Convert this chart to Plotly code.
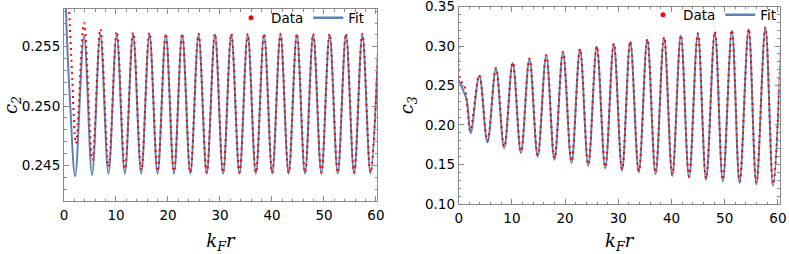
import plotly.graph_objects as go

# ---------------- Left panel: c2 (extrema) ----------------
fit2_x = [0.0, 0.38, 1.15, 2.15, 3.85, 5.4, 6.98, 8.55, 10.13, 11.7, 13.28, 14.85, 16.43,
          18.0, 19.58, 21.15, 22.73, 24.3, 25.88, 27.45, 29.03, 30.6, 32.18, 33.75, 35.33,
          36.9, 38.48, 40.05, 41.63, 43.2, 44.78, 46.35, 47.93, 49.5, 51.08, 52.65, 54.23,
          55.8, 57.38, 58.95, 60.53]
fit2_y = [0.2680, 0.2581, 0.2505, 0.2441, 0.2559, 0.2442, 0.2560, 0.2443, 0.2560, 0.2443,
          0.2560, 0.2443, 0.2560, 0.2443, 0.2560, 0.2443, 0.2560, 0.2443, 0.2560, 0.2443,
          0.2560, 0.2443, 0.2560, 0.2443, 0.2560, 0.2443, 0.2560, 0.2443, 0.2560, 0.2443,
          0.2560, 0.2443, 0.2560, 0.2443, 0.2560, 0.2443, 0.2560, 0.2443, 0.2560, 0.2443,
          0.2560]

data2_x = [0.5, 1.0, 1.5, 2.3, 3.85, 5.45, 7.0, 8.58, 10.14, 11.71, 13.28, 14.86, 16.43,
           18.0, 19.58, 21.15, 22.73, 24.3, 25.88, 27.45, 29.03, 30.6, 32.18, 33.75, 35.33,
           36.9, 38.48, 40.05, 41.63, 43.2, 44.78, 46.35, 47.93, 49.5, 51.08, 52.65, 54.23,
           55.8, 57.38, 58.95, 60.53]
data2_y = [0.2650, 0.2580, 0.2532, 0.24685, 0.2570, 0.24545, 0.2565, 0.2449, 0.2563, 0.2447,
           0.2562, 0.2446, 0.2562, 0.2445, 0.2561, 0.2445, 0.2561, 0.2444, 0.2561, 0.2444,
           0.2561, 0.2444, 0.2561, 0.2444, 0.2561, 0.2444, 0.2561, 0.2444, 0.2561, 0.2444,
           0.2561, 0.2444, 0.2561, 0.2444, 0.2561, 0.2444, 0.2561, 0.2444, 0.2561, 0.2444,
           0.2561]

# ---------------- Right panel: c3 (extrema) ----------------
fit3_x = [0.0, 0.6, 1.5, 2.25, 3.87, 5.4, 7.0, 8.55, 10.15, 11.7, 13.3, 14.85, 16.45, 18.0,
          19.6, 21.2, 22.8, 24.35, 25.95, 27.55, 29.15, 30.7, 32.25, 33.85, 35.45, 37.0,
          38.6, 40.15, 41.75, 43.3, 44.95, 46.5, 48.15, 49.65, 51.35, 52.8, 54.5, 55.95,
          57.65, 59.1, 60.7]
fit3_y = [0.2570, 0.2478, 0.2317, 0.1895, 0.2625, 0.1780, 0.2715, 0.1705, 0.2785, 0.1645,
          0.2835, 0.1600, 0.2880, 0.1560, 0.2920, 0.1520, 0.2955, 0.1482, 0.2990, 0.1450,
          0.3025, 0.1420, 0.3050, 0.1398, 0.3080, 0.1378, 0.3105, 0.1355, 0.3130, 0.1330,
          0.3155, 0.1305, 0.3175, 0.1285, 0.3195, 0.1265, 0.3213, 0.1248, 0.3231, 0.1230,
          0.3250]

data3_x = [0.0, 0.1, 0.6, 1.2, 2.15, 3.87, 5.4, 7.0, 8.55, 10.15, 11.7, 13.3, 14.85, 16.45,
           18.0, 19.6, 21.2, 22.8, 24.35, 25.95, 27.55, 29.15, 30.7, 32.25, 33.85, 35.45,
           37.0, 38.6, 40.15, 41.75, 43.3, 44.95, 46.5, 48.15, 49.65, 51.35, 52.8, 54.5,
           55.95, 57.65, 59.1, 60.7]
data3_y = [0.3000, 0.2620, 0.2540, 0.2465, 0.1925, 0.2632, 0.1800, 0.2722, 0.1725, 0.2793,
           0.1665, 0.2843, 0.1620, 0.2888, 0.1580, 0.2928, 0.1540, 0.2963, 0.1500, 0.2998,
           0.1468, 0.3033, 0.1440, 0.3058, 0.1418, 0.3088, 0.1398, 0.3113, 0.1375, 0.3138,
           0.1350, 0.3163, 0.1325, 0.3183, 0.1305, 0.3203, 0.1285, 0.3221, 0.1268, 0.3239,
           0.1250, 0.3258]

W, H = 789, 254
BLUE = "#5E81B5"
RED = "#FF0000"
FRAME = "#8a8a8a"
TICKFONT = dict(family="DejaVu Sans", size=13.5, color="black")
TITLEFONT = dict(family="DejaVu Serif", size=18, color="black", style="italic")


def px_x(p):
    return p / W


def px_y(p):
    return (H - p) / H


fig = go.Figure()


def add_panel(fx, fy, dx, dy, xa, ya, leg):
    fig.add_trace(go.Scatter(x=fx, y=fy, mode="lines", xaxis=xa, yaxis=ya,
                             line=dict(color=BLUE, width=2, shape="spline", smoothing=1),
                             showlegend=False, name="Fit"))
    fig.add_trace(go.Scatter(x=dx, y=dy, mode="lines", xaxis=xa, yaxis=ya,
                             line=dict(color=RED, width=2, shape="spline", smoothing=1,
                                       dash="2px,4px"),
                             showlegend=False, name="Data"))
    # legend entries (no data drawn)
    fig.add_trace(go.Scatter(x=[None], y=[None], mode="markers", xaxis=xa, yaxis=ya,
                             marker=dict(color=RED, size=5), name="Data", legend=leg))
    fig.add_trace(go.Scatter(x=[None], y=[None], mode="lines", xaxis=xa, yaxis=ya,
                             line=dict(color=BLUE, width=2.5), name="Fit", legend=leg))


add_panel(fit2_x, fit2_y, data2_x, data2_y, "x", "y", "legend")
add_panel(fit3_x, fit3_y, data3_x, data3_y, "x2", "y2", "legend2")


def xax(domain, rng):
    return dict(domain=domain, range=rng, tick0=0, dtick=10, ticks="inside", ticklen=5,
                tickcolor=FRAME, showline=True, linecolor=FRAME, linewidth=1,
                mirror="allticks", showgrid=False, zeroline=False, tickfont=TICKFONT,
                automargin=False, ticklabelstandoff=2, ticklabeloverflow="allow",
                minor=dict(dtick=2, ticks="inside", ticklen=2.5, tickcolor=FRAME, showgrid=False),
                title=dict(text="k<sub>F</sub>r", font=TITLEFONT, standoff=14))


def yax(domain, rng, t0, dt, mdt, fmt, title):
    return dict(domain=domain, range=rng, tick0=t0, dtick=dt, tickformat=fmt, ticks="inside",
                ticklen=5, tickcolor=FRAME, showline=True, linecolor=FRAME, linewidth=1,
                mirror="allticks", showgrid=False, zeroline=False, tickfont=TICKFONT,
                automargin=False, ticklabeloverflow="allow",
                minor=dict(dtick=mdt, ticks="inside", ticklen=2.5, tickcolor=FRAME, showgrid=False),
                title=dict(text=title, font=TITLEFONT, standoff=6))


LEGFONT = dict(family="DejaVu Sans", size=13.5, color="black")
fig.update_layout(
    width=W, height=H, margin=dict(l=0, r=0, t=0, b=0, autoexpand=False),
    paper_bgcolor="white", plot_bgcolor="white", showlegend=True, hovermode=False,
    xaxis=xax([px_x(64), px_x(377)], [0, 60.2]),
    yaxis=yax([px_y(201), px_y(9)], [0.242, 0.25818], 0.245, 0.005, 0.001, ".3f",
              "c<sub>2</sub>"),
    xaxis2=xax([px_x(458.7), px_x(779.5)], [0, 60.3]),
    yaxis2=yax([px_y(204), px_y(6.5)], [0.0999, 0.3501], 0.10, 0.05, 0.01, ".2f",
               "c<sub>3</sub>"),
    legend=dict(orientation="h", x=px_x(370), y=px_y(18), xanchor="right", yanchor="middle",
                bgcolor="rgba(0,0,0,0)", font=LEGFONT, itemwidth=30,
                tracegroupgap=0, borderwidth=0),
    legend2=dict(orientation="h", x=px_x(782), y=px_y(15), xanchor="right", yanchor="middle",
                 bgcolor="rgba(0,0,0,0)", font=LEGFONT, itemwidth=30,
                 tracegroupgap=0, borderwidth=0),
)
fig.layout.xaxis2.anchor = "y2"
fig.layout.yaxis2.anchor = "x2"

fig.write_html("out.html", config={"displayModeBar": False},
               post_script="document.body.style.margin='0';")
